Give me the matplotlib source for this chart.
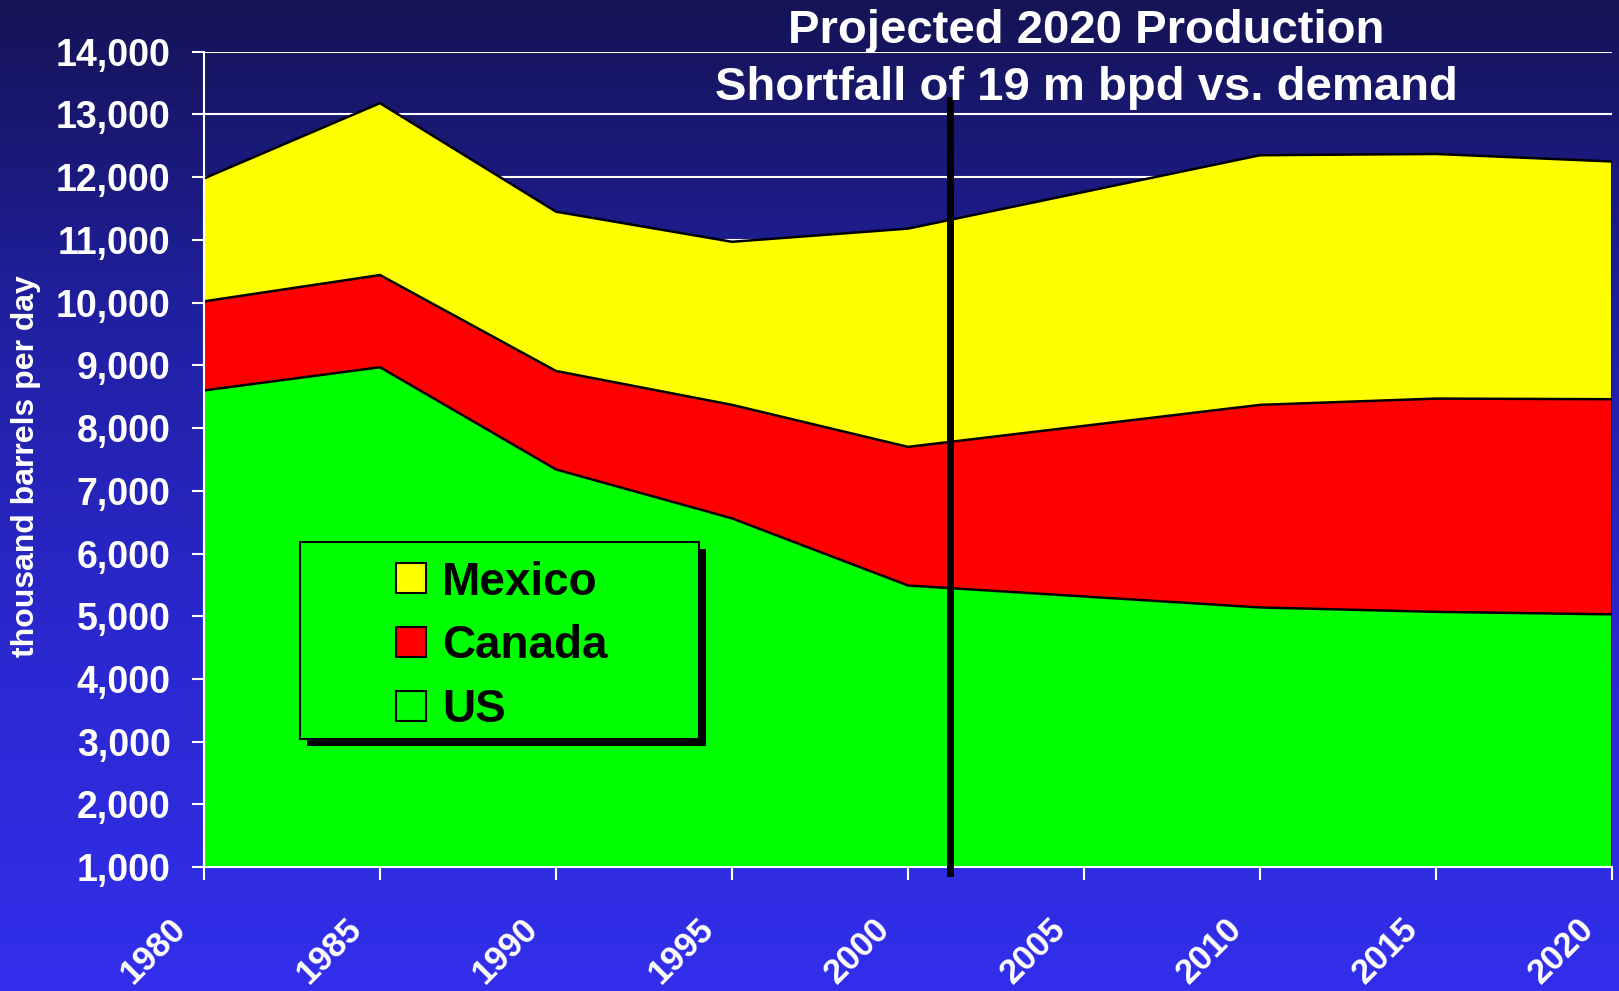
import matplotlib.pyplot as plt
import numpy as np
from matplotlib import patheffects
from matplotlib.patches import Patch, Rectangle
from matplotlib.transforms import ScaledTranslation

plt.rcParams['font.family'] = ['Liberation Sans', 'DejaVu Sans']
plt.rcParams['font.weight'] = 'bold'

# production, thousand barrels per day (no 2005 point in the series)
years = [1980, 1985, 1990, 1995, 2000, 2010, 2015, 2020]
us = [8600, 8970, 7340, 6560, 5490, 5140, 5070, 5030]
canada = [1420, 1470, 1570, 1810, 2210, 3230, 3400, 3430]
mexico = [1960, 2740, 2540, 2600, 3480, 3980, 3900, 3790]

tick_years = list(range(1980, 2021, 5))
y_ticks = list(range(1000, 14001, 1000))

series = [('US', us, '#00ff00'),
          ('Canada', canada, '#ff0000'),
          ('Mexico', mexico, '#ffff00')]

fig = plt.figure(figsize=(16.19, 9.91), dpi=100)

# slide-style vertical gradient behind everything
bg = fig.add_axes([0, 0, 1, 1], zorder=-10)
stops = [0.0, 0.33, 0.63, 1.0]
rgb = np.array([[20, 20, 85], [33, 32, 162], [42, 40, 205], [50, 46, 236]]) / 255
t = np.linspace(0, 1, 512)
grad = np.stack([np.interp(t, stops, rgb[:, i]) for i in range(3)], axis=-1)[:, None, :]
bg.imshow(grad, aspect='auto', extent=[0, 1, 0, 1])
bg.axis('off')

ax = fig.add_axes([0.126, 0.125, 0.8697, 0.8228])
ax.set_facecolor('none')
ax.set_xlim(1980, 2020)
ax.set_ylim(1000, 14000)

base = np.zeros(len(years))
for name, vals, color in series:
    top = base + np.array(vals)
    ax.fill_between(years, base, top, facecolor=color, edgecolor='none', zorder=2)
    ax.plot(years, top, color='black', lw=1.8, zorder=3, solid_joinstyle='miter')
    base = top
ax.vlines(years[-1], 0, base[-1], color='black', lw=2, zorder=3)

ax.set_yticks(y_ticks)
ax.set_yticklabels([f'{v:,}' for v in y_ticks])
ax.yaxis.grid(True, color='white', lw=1.5)
ax.set_axisbelow(True)

for side in ['top', 'right']:
    ax.spines[side].set_visible(False)
for side in ['left', 'bottom']:
    ax.spines[side].set_color('white')
    ax.spines[side].set_linewidth(1.5)
    ax.spines[side].set_zorder(4)

ax.tick_params(axis='both', colors='white', direction='out', length=9, width=1.5)
ax.tick_params(axis='y', labelsize=27, pad=15)
ax.tick_params(axis='x', labelsize=25, pad=32)

ax.set_xticks(tick_years)
ax.set_xticklabels([str(y) for y in tick_years], rotation=45, ha='right',
                   va='center', rotation_mode='anchor')
shift = ScaledTranslation(-0.235, 0, fig.dpi_scale_trans)
for lbl in ax.get_xticklabels():
    lbl.set_transform(lbl.get_transform() + shift)

ax.set_ylabel('thousand barrels per day', fontsize=23, color='white', fontweight='bold')
ax.yaxis.set_label_coords(-0.116, 0.492)

# divider between history and projection
ax.plot([2001.2, 2001.2], [900, 13230], color='black', lw=5, clip_on=False, zorder=6)

# legend box with hard drop shadow
box = Rectangle((0.0682, 0.157), 0.2834, 0.2416, transform=ax.transAxes,
                facecolor='#00ff00', edgecolor='black', lw=1.5, zorder=7)
box.set_path_effects([patheffects.SimplePatchShadow(offset=(5, -5), shadow_rgbFace='black', alpha=1),
                      patheffects.Normal()])
ax.add_patch(box)

handles = [Patch(facecolor=c, edgecolor='black', lw=1.5, label=n) for n, _, c in reversed(series)]
leg = ax.legend(handles=handles, loc='upper left', bbox_to_anchor=(0.1364, 0.376),
                frameon=False, borderpad=0, borderaxespad=0, fontsize=33,
                handlelength=0.65, handleheight=0.63, handletextpad=0.35, labelspacing=0.43)
leg.set_zorder(8)

fig.text(0.6708, 0.9566, 'Projected 2020 Production', ha='center', va='baseline',
         fontsize=34, color='white', fontweight='bold')
fig.text(0.6708, 0.8991, 'Shortfall of 19 m bpd vs. demand', ha='center', va='baseline',
         fontsize=34, color='white', fontweight='bold')

fig.savefig('out.png', dpi=100)
